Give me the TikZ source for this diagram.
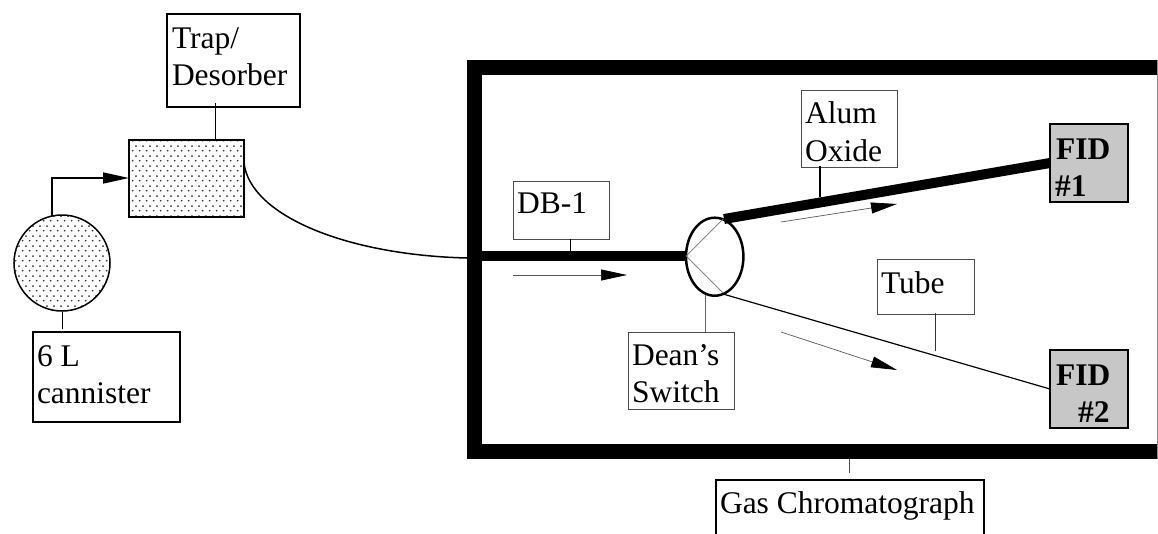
\documentclass[tikz,border=0pt]{standalone}
\usepackage{fontspec}
\setmainfont{Liberation Serif}
\usetikzlibrary{arrows.meta,patterns,shapes.geometric}
\pgfdeclarepatternformonly{stip}{\pgfqpoint{0pt}{0pt}}{\pgfqpoint{7.3pt}{10pt}}{\pgfqpoint{7.3pt}{10pt}}{%
  \pgfpathcircle{\pgfqpoint{1.8pt}{2.5pt}}{1pt}%
  \pgfpathcircle{\pgfqpoint{5.45pt}{7.5pt}}{1pt}%
  \pgfusepath{fill}}
\tikzset{
  labelbox/.style={draw=black,line width=1.5pt,fill=white,anchor=north west,inner sep=0pt,outer sep=0pt},
  thinbox/.style={labelbox,line width=1pt,draw=black!70!white},
  txt/.style={anchor=base west,inner sep=0pt,outer sep=0pt,font=\fontsize{31.5}{36}\selectfont},
  btxt/.style={txt,font=\fontsize{31.5}{36}\selectfont\bfseries},
  stipple/.style={pattern=stip,pattern color=black!80},
  fid/.style={draw=black,line width=2pt,fill=black!22,anchor=north west,inner sep=0pt,outer sep=0pt,minimum width=78pt,minimum height=78pt},
  leader/.style={line width=1pt,draw=black},
  pipe/.style={line width=10pt,line cap=butt},
  wall/.style={fill=black,draw=none,anchor=north west,inner sep=0pt,outer sep=0pt},
  flow/.style={line width=0.7pt,draw=black!65,-{Triangle[length=26pt,width=11pt,fill=black,color=black]}},
}
\begin{document}
\begin{tikzpicture}[x=1pt,y=-1pt]
\useasboundingbox (0,0) rectangle (1158,533);
% GC walls
\node[wall,minimum width=691pt,minimum height=15pt] (walltop) at (467,60) {};
\node[wall,minimum width=691pt,minimum height=15pt] (wallbot) at (467,444) {};
\node[wall,minimum width=15pt,minimum height=399pt] (wallleft) at (467,60) {};
\coordinate (wre1) at (1157.5,60);
\coordinate (wre2) at (1157.5,459);
\draw[line width=1pt,black!45] (wre1) -- (wre2);
% source parts
\node[labelbox,minimum width=133pt,minimum height=93pt] (trap) at (167,14) {};
\node[txt] (traptxt1) at (172,48) {Trap/};
\node[txt] (traptxt2) at (172,85) {Desorber};
\node[draw=black,line width=1.5pt,stipple,anchor=north west,inner sep=0pt,outer sep=0pt,minimum width=115pt,minimum height=77pt] (desorb) at (129,140) {};
\node[draw=black,line width=1.5pt,stipple,circle,inner sep=0pt,outer sep=0pt,minimum size=96pt] (can) at (62,263) {};
\node[labelbox,minimum width=147pt,minimum height=90pt] (canbox) at (33,332) {};
\node[txt] (cantxt1) at (37,366) {6 L};
\node[txt] (cantxt2) at (37,403) {cannister};
\coordinate (c1) at (215,103);
\coordinate (c2) at (62,312);
\coordinate (c3) at (62,329);
\coordinate (c4) at (52,215.5);
\coordinate (c5) at (52,178);
\draw[leader] (c1) -- (c1 |- desorb.north);
\draw[leader] (c2) -- (c3);
\draw[line width=1.5pt,-{Triangle[length=26pt,width=11pt]}] (c4) -- (c5) -- (c5 -| desorb.west);
% transfer line
\coordinate (cv0) at (244,163);
\coordinate (cv1) at (467,258);
\draw[line width=1.5pt] (cv0) .. controls (250,215) and (345,255) .. (cv1);
% switch
\node[ellipse,draw=black,line width=2.5pt,inner sep=0pt,outer sep=0pt,minimum width=57.4pt,minimum height=78pt] (sw) at (714.7,256.7) {};
\coordinate (db0) at (482,256);
\coordinate (db1) at (686,256);
\draw[pipe] (db0) -- (db1);
\coordinate (sa) at (723,219);
\coordinate (sb) at (723,293);
\draw[line width=0.7pt,black!55] (db1) -- (sa);
\draw[line width=0.7pt,black!55] (db1) -- (sb);
% FIDs
\node[fid] (fid1) at (1050,124) {};
\node[fid] (fid2) at (1050,350) {};
\node[btxt] (f1a) at (1056,159) {FID};
\node[btxt] (f1b) at (1055,196) {\#1};
\node[btxt] (f2a) at (1056,385) {FID};
\node[btxt] (f2b) at (1078,422) {\#2};
\coordinate (al0) at (724,219);
\coordinate (al1) at (1050,163);
\draw[pipe] (al0) -- (al1);
\coordinate (tu0) at (723,294);
\coordinate (tu1) at (1050,389);
\draw[line width=1.2pt] (tu0) -- (tu1);
% flow arrows
\coordinate (fa0) at (513,275); \coordinate (fa1) at (627,275);
\coordinate (fb0) at (781,222); \coordinate (fb1) at (897,204);
\coordinate (fc0) at (781,332); \coordinate (fc1) at (897,370);
\draw[flow] (fa0) -- (fa1);
\draw[flow] (fb0) -- (fb1);
\draw[flow] (fc0) -- (fc1);
% label boxes
\node[thinbox,minimum width=96pt,minimum height=58pt] (db) at (513,181) {};
\node[txt] (dbt) at (517,213) {DB-1};
\coordinate (l1) at (570,251);
\draw[leader] (l1 |- db.south) -- (l1);
\node[thinbox,minimum width=106pt,minimum height=77pt] (dean) at (628,332) {};
\node[txt] (deant1) at (632,365) {Dean’s};
\node[txt] (deant2) at (632,402) {Switch};
\coordinate (l2) at (705,295);
\draw[leader,black!60] (l2) -- (l2 |- dean.north);
\node[thinbox,minimum width=96pt,minimum height=77pt] (alum) at (801,90) {};
\node[txt] (alt1) at (805,123) {Alum};
\node[txt] (alt2) at (805,161) {Oxide};
\coordinate (l3a) at (820,166); \coordinate (l3b) at (820,197);
\draw[line width=1.2pt] (l3a) -- (l3b);
\node[thinbox,minimum width=97pt,minimum height=55pt] (tube) at (877,259) {};
\node[txt] (tubet) at (881,293) {Tube};
\coordinate (l4a) at (935,313); \coordinate (l4b) at (935,351);
\draw[leader,black!80] (l4a) -- (l4b);
\node[labelbox,minimum width=268pt,minimum height=60pt] (gc) at (716,480) {};
\node[txt] (gct) at (720,513) {Gas Chromatograph};
\coordinate (l5a) at (849,459); \coordinate (l5b) at (849,473);
\draw[leader,black!70] (l5a) -- (l5b);
\end{tikzpicture}
\end{document}
